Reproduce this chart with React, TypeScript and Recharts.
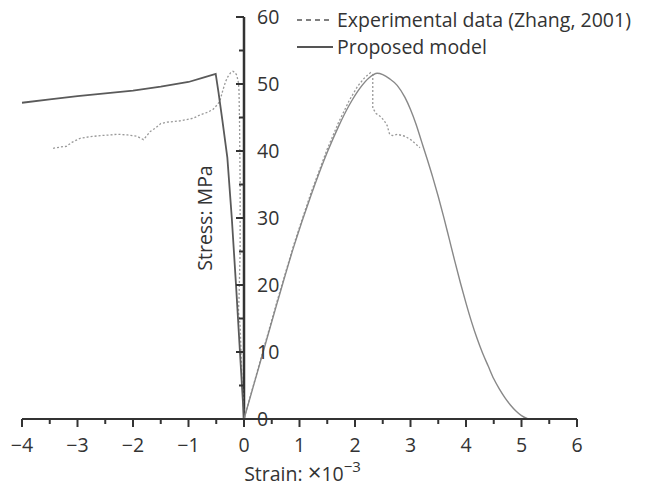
import { ComposedChart, Line, XAxis, YAxis, ReferenceLine, Legend } from "recharts";

// strain (x10^-3) vs stress (MPa)
const modelCompression: [number, number][] = [
  [-4, 47.2], [-3.5, 47.7], [-3, 48.2], [-2.5, 48.6], [-2, 49.0], [-1.5, 49.6],
  [-1, 50.3], [-0.75, 50.9], [-0.51, 51.5], [-0.46, 48.8], [-0.39, 44.6], [-0.3, 39.0],
  [-0.22, 30.0], [-0.14, 19.5], [-0.08, 11.0], [-0.03, 4.0], [0, 0],
];
const modelTension: [number, number][] = [
  [0, 0], [0.3, 8.7], [0.6, 17.4], [0.9, 25.8], [1.2, 33.2], [1.5, 39.8], [1.7, 43.6],
  [1.9, 46.9], [2.1, 49.5], [2.25, 50.9], [2.4, 51.6], [2.5, 51.4], [2.62, 50.8],
  [2.76, 49.8], [2.9, 48.0], [3.0, 46.2], [3.1, 44.0], [3.2, 41.4], [3.3, 38.8],
  [3.4, 36.1], [3.5, 33.2], [3.6, 30.1], [3.7, 26.8], [3.8, 23.5], [3.9, 20.3],
  [4.0, 17.3], [4.1, 14.5], [4.2, 12.0], [4.3, 9.8], [4.4, 7.9], [4.5, 6.0],
  [4.6, 4.5], [4.7, 3.2], [4.8, 2.1], [4.9, 1.2], [5.0, 0.5], [5.12, 0],
];
const experimental: [number, number][] = [
  [-3.44, 40.4], [-3.3, 40.6], [-3.2, 40.7], [-3.1, 41.3], [-2.95, 41.9], [-2.8, 42.1],
  [-2.59, 42.3], [-2.4, 42.4], [-2.29, 42.5], [-2.1, 42.4], [-1.93, 42.2], [-1.81, 41.7],
  [-1.75, 42.3], [-1.69, 42.9], [-1.6, 43.4], [-1.5, 44.1], [-1.39, 44.3], [-1.15, 44.5],
  [-0.91, 44.9], [-0.79, 45.4], [-0.65, 45.8], [-0.56, 46.2], [-0.47, 47.0], [-0.43, 47.6],
  [-0.38, 49.1], [-0.33, 50.4], [-0.29, 51.1], [-0.24, 51.7], [-0.2, 51.9], [-0.16, 51.7],
  [-0.13, 51.3], [-0.1, 50.2], [-0.09, 49.0], [-0.08, 44], [-0.07, 35], [-0.07, 25],
  [-0.09, 18], [-0.1, 16], [-0.07, 14], [-0.04, 7], [0, 0],
  [0.3, 8.9], [0.6, 17.7], [0.9, 26.1], [1.2, 33.6], [1.5, 40.3], [1.7, 44.2],
  [1.9, 47.6], [2.05, 49.7], [2.18, 51.0], [2.28, 51.7], [2.32, 51.4], [2.32, 46.4],
  [2.38, 45.6], [2.45, 45.2], [2.52, 44.6], [2.58, 43.8], [2.62, 42.6], [2.67, 42.3],
  [2.76, 42.5], [2.9, 42.2], [3.02, 41.6], [3.1, 41.0], [3.17, 40.5],
];

const strainTicks = [-4, -3.5, -3, -2.5, -2, -1.5, -1, -0.5, 0, 0.5, 1, 1.5, 2, 2.5, 3, 3.5, 4, 4.5, 5, 5.5, 6];
const stressTicks = [0, 5, 10, 15, 20, 25, 30, 35, 40, 45, 50, 55, 60];

const W = 648;
const H = 490;
const X_MIN = -4;
const X_MAX = 6;
const Y_AXIS_W = 1;
const MARGIN = { top: 17, right: 71, bottom: 31, left: 21 };
const PLOT_W = W - MARGIN.left - Y_AXIS_W - MARGIN.right;
const ZERO_OFFSET = (PLOT_W * (0 - X_MIN)) / (X_MAX - X_MIN);

const FONT = "'Open Sans', sans-serif";
const INK = "#333";

const toRows = (pts: [number, number][]) => pts.map(([x, y]) => ({ x, y }));

function StrainTick(props: any) {
  const { x, y, payload } = props;
  const major = Number.isInteger(payload.value);
  return (
    <g>
      <line x1={x} x2={x} y1={y} y2={y + (major ? 8 : 5)} stroke={INK} strokeWidth={2} />
      {major && (
        <text x={x} y={y + 33} textAnchor="middle" fontSize={19.5} fontFamily={FONT} fill={INK}>
          {payload.value < 0 ? `\u2212${Math.abs(payload.value)}` : payload.value}
        </text>
      )}
    </g>
  );
}

function StressTick(props: any) {
  const { y, payload } = props;
  const ax = MARGIN.left + Y_AXIS_W + ZERO_OFFSET;
  const major = payload.value % 10 === 0;
  return (
    <g>
      <line x1={ax - (major ? 8 : 5)} x2={ax} y1={y} y2={y} stroke={INK} strokeWidth={2} />
      {major && (
        <text x={ax + 13} y={y + 7} textAnchor="start" fontSize={19.5} fontFamily={FONT} fill={INK}>
          {payload.value}
        </text>
      )}
    </g>
  );
}

function StrainLabel(props: any) {
  const { viewBox } = props;
  const cx = viewBox.x + viewBox.width / 2 + 3;
  return (
    <text x={cx} y={viewBox.y + 62} textAnchor="middle" fontSize={19.5} fontFamily={FONT} fill={INK}>
      Strain: <tspan fontSize={24}>×</tspan>10
      <tspan dy={-9} fontSize={15}>−3</tspan>
    </text>
  );
}

function StressLabel() {
  const cx = MARGIN.left + Y_AXIS_W + ZERO_OFFSET - 32;
  const cy = MARGIN.top + (H - MARGIN.top - MARGIN.bottom - 40) / 2;
  return (
    <text x={cx} y={cy} transform={`rotate(-90 ${cx} ${cy})`} textAnchor="middle" fontSize={19.5} fontFamily={FONT} fill={INK}>
      Stress: MPa
    </text>
  );
}

function LegendBox(props: any) {
  const items = (props.payload || []).filter((e: any) => e.type !== "none" && !String(e.value).includes("tension"));
  return (
    <div style={{ fontFamily: FONT, fontSize: 19.5, color: INK }}>
      {items.map((entry: any) => {
        const dashed = entry.value.startsWith("Experimental");
        return (
          <div key={entry.value} style={{ display: "flex", alignItems: "center", height: 27 }}>
            <svg width={40} height={10}>
              <line
                x1={0}
                x2={36}
                y1={5}
                y2={5}
                stroke="#555"
                strokeWidth={dashed ? 1.5 : 2}
                strokeDasharray={dashed ? "5 4" : undefined}
              />
            </svg>
            <span>{entry.value}</span>
          </div>
        );
      })}
    </div>
  );
}

export default function App() {
  return (
    <div style={{ position: "absolute", left: 0, top: 0, width: W, height: H, background: "#fff" }}>
      <ComposedChart width={W} height={H} margin={MARGIN}>
        <XAxis
          type="number"
          dataKey="x"
          domain={[X_MIN, X_MAX]}
          ticks={strainTicks}
          interval={0}
          height={40}
          tickSize={0}
          tickMargin={0}
          tickLine={false}
          axisLine={{ stroke: INK, strokeWidth: 2 }}
          tick={<StrainTick />}
          label={<StrainLabel />}
        />
        <YAxis
          type="number"
          dataKey="y"
          domain={[0, 60]}
          ticks={stressTicks}
          interval={0}
          width={Y_AXIS_W}
          tickSize={0}
          tickMargin={0}
          tickLine={false}
          axisLine={false}
          tick={<StressTick />}
          label={<StressLabel />}
        />
        <ReferenceLine x={0} stroke={INK} strokeWidth={2.5} />
        <Legend
          layout="horizontal"
          verticalAlign="middle"
          align="center"
          wrapperStyle={{ left: 297, top: 6, width: 350 }}
          content={<LegendBox />}
        />
        <Line
          data={toRows(experimental)}
          dataKey="y"
          name="Experimental data (Zhang, 2001)"
          type="linear"
          stroke="#999"
          strokeWidth={1.3}
          strokeDasharray="2 2"
          dot={false}
          isAnimationActive={false}
        />
        <Line
          data={toRows(modelCompression)}
          dataKey="y"
          name="Proposed model"
          type="linear"
          stroke="#5a5a5a"
          strokeWidth={1.8}
          dot={false}
          isAnimationActive={false}
        />
        <Line
          data={toRows(modelTension)}
          dataKey="y"
          name="Proposed model (tension)"
          legendType="none"
          type="monotone"
          stroke="#888"
          strokeWidth={1.4}
          dot={false}
          isAnimationActive={false}
        />
      </ComposedChart>
    </div>
  );
}
